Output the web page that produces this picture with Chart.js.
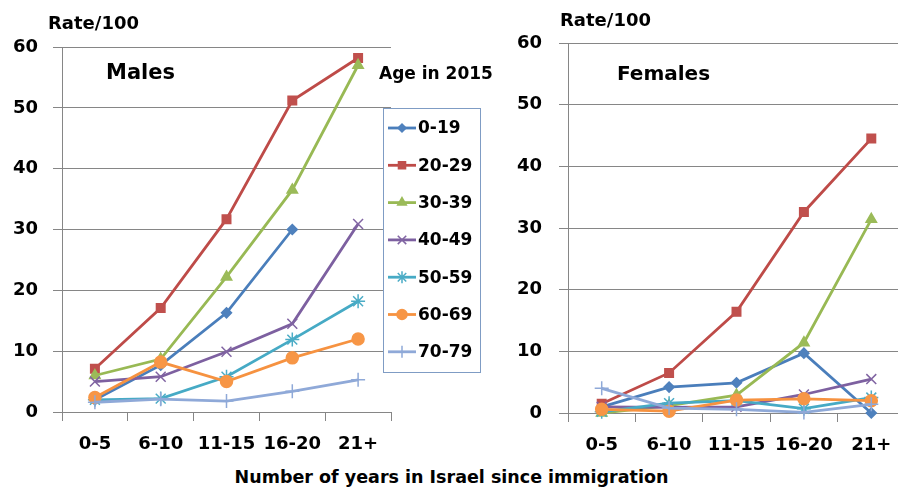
<!DOCTYPE html>
<html>
<head>
<meta charset="utf-8">
<script src="https://cdn.jsdelivr.net/npm/chart.js@4/dist/chart.umd.min.js"></script>
<style>
  html, body { margin: 0; padding: 0; background: #fff; width: 898px; height: 493px; overflow: hidden; }
  body { position: relative; font-family: "DejaVu Sans", sans-serif; font-weight: bold; color: #000; }
  .wrap { position: absolute; top: 0; height: 460px; }
  .lbl { position: absolute; white-space: nowrap; line-height: 1; }
</style>
</head>
<body>
<div class="wrap" style="left:0;width:500px;"><canvas id="males" width="500" height="460"></canvas></div>
<div class="wrap" style="left:500px;width:420px;"><canvas id="females" width="420" height="460"></canvas></div>

<div class="lbl" style="left:48px;top:14px;font-size:18px;">Rate/100</div>
<div class="lbl" style="left:560px;top:11px;font-size:18px;">Rate/100</div>
<div class="lbl" style="left:106px;top:62px;font-size:21px;">Males</div>
<div class="lbl" style="left:617px;top:63px;font-size:20px;">Females</div>
<div class="lbl" style="left:379px;top:65px;font-size:17px;">Age in 2015</div>
<div class="lbl" style="left:0;width:903px;text-align:center;top:469px;font-size:17.5px;">Number of years in Israel since immigration</div>

<script>
// Years since immigration (x categories)
const categories = ['0-5', '6-10', '11-15', '16-20', '21+'];
// Age groups in 2015 (one line per group)
const ageGroups = ['0-19', '20-29', '30-39', '40-49', '50-59', '60-69', '70-79'];
// y-axis tick values
const yTicks = [0, 10, 20, 30, 40, 50, 60];

// Males, rate per 100
const males0_19  = [2.0, 7.7, 16.3, 30.0, null];
const males20_29 = [7.1, 17.1, 31.7, 51.2, 58.2];
const males30_39 = [6.0, 8.7, 22.2, 36.5, 57.0];
const males40_49 = [5.0, 5.8, 9.9, 14.5, 30.9];
const males50_59 = [2.0, 2.2, 5.8, 11.9, 18.2];
const males60_69 = [2.4, 8.2, 5.0, 8.9, 12.0];
const males70_79 = [1.6, 2.1, 1.8, 3.4, 5.3];

// Females, rate per 100
const females0_19  = [1.0, 4.2, 4.9, 9.7, 0.0];
const females20_29 = [1.5, 6.5, 16.4, 32.6, 44.5];
const females30_39 = [0.0, 1.2, 2.9, 11.4, 31.4];
const females40_49 = [1.0, 0.9, 1.0, 3.0, 5.5];
const females50_59 = [0.2, 1.6, 2.0, 0.7, 2.5];
const females60_69 = [0.6, 0.3, 2.1, 2.3, 2.0];
const females70_79 = [4.0, 0.8, 0.6, 0.1, 1.4];

const maleSeries = [males0_19, males20_29, males30_39, males40_49, males50_59, males60_69, males70_79];
const femaleSeries = [females0_19, females20_29, females30_39, females40_49, females50_59, females60_69, females70_79];

// Office-style line / marker styling per age group
const styles = [
  { line: '#4A7EBB', fill: '#4F81BD', point: 'rectRot',  radius: 5 },
  { line: '#BE4B48', fill: '#C0504D', point: 'rect',     radius: 6 },
  { line: '#98B954', fill: '#9BBB59', point: 'triangle', radius: 6 },
  { line: '#7D60A0', fill: '#8064A2', point: 'crossRot', radius: 7 },
  { line: '#46AAC5', fill: '#4BACC6', point: 'star',     radius: 7 },
  { line: '#F69240', fill: '#F79646', point: 'circle',   radius: 6 },
  { line: '#8FA9D8', fill: '#8FA9D8', point: 'cross',    radius: 7 }
];

const FONT = { family: 'DejaVu Sans', weight: 'bold', size: 18 };
const GRID = '#868686';

function datasets(series) {
  return series.map((values, i) => ({
    label: ageGroups[i],
    data: values,
    borderColor: styles[i].line,
    backgroundColor: styles[i].fill,
    pointBackgroundColor: styles[i].fill,
    pointBorderColor: styles[i].fill,
    pointStyle: styles[i].point,
    pointRadius: styles[i].radius,
    pointBorderWidth: 1.5,
    borderWidth: 2.8,
    tension: 0,
    clip: false,
    order: series.length - i
  }));
}

// Legend box drawn inside the males chart
const ageLegend = {
  id: 'ageLegend',
  afterDraw(chart, args, opts) {
    if (!opts.show) return;
    const ctx = chart.ctx;
    const box = { x: 383, y: 108, w: 97, h: 264 };
    ctx.save();
    ctx.fillStyle = '#fff';
    ctx.fillRect(box.x, box.y, box.w, box.h);
    ctx.strokeStyle = '#7F9CC4';
    ctx.lineWidth = 1;
    ctx.strokeRect(box.x + 0.5, box.y + 0.5, box.w, box.h);
    ctx.font = 'bold 17px "DejaVu Sans"';
    ctx.textBaseline = 'middle';
    ageGroups.forEach((name, i) => {
      const y = 128 + i * 37.3;
      const st = styles[i];
      ctx.strokeStyle = st.line;
      ctx.lineWidth = 2.8;
      ctx.beginPath();
      ctx.moveTo(388, y);
      ctx.lineTo(416, y);
      ctx.stroke();
      ctx.fillStyle = st.fill;
      ctx.strokeStyle = st.fill;
      ctx.lineWidth = 1.5;
      Chart.helpers.drawPoint(ctx, { pointStyle: st.point, radius: st.radius - 1, rotation: 0, borderWidth: 1.5 }, 402, y);
      ctx.fillStyle = '#000';
      ctx.fillText(name, 418, y + 1);
    });
    ctx.restore();
  }
};

function makeChart(id, series, geom, showLegend) {
  return new Chart(document.getElementById(id), {
    type: 'line',
    data: { labels: categories, datasets: datasets(series) },
    plugins: [ageLegend],
    options: {
      responsive: false,
      animation: false,
      events: [],
      layout: { padding: { left: 0, top: geom.top, right: geom.right, bottom: 0 } },
      plugins: {
        legend: { display: false },
        tooltip: { enabled: false },
        ageLegend: { show: showLegend }
      },
      scales: {
        x: {
          type: 'category',
          offset: true,
          grid: { offset: true, drawOnChartArea: false, drawTicks: true, tickLength: 9, color: GRID, lineWidth: 1 },
          border: { color: GRID, width: 1 },
          ticks: { font: FONT, color: '#000', padding: 13, maxRotation: 0, autoSkip: false },
          afterFit(scale) { scale.height = geom.xHeight; }
        },
        y: {
          min: 0,
          max: 60,
          afterBuildTicks(scale) { scale.ticks = yTicks.map(v => ({ value: v })); },
          grid: { color: GRID, lineWidth: 1, drawTicks: true, tickLength: 9 },
          border: { color: GRID, width: 1 },
          ticks: { font: FONT, color: '#000', padding: geom.yPad },
          afterFit(scale) { scale.width = geom.yWidth; }
        }
      }
    }
  });
}

makeChart('males', maleSeries, { top: 47, right: 109, xHeight: 48, yWidth: 62, yPad: 15 }, true);
makeChart('females', femaleSeries, { top: 43, right: 15, xHeight: 47, yWidth: 68, yPad: 17 }, false);
</script>
</body>
</html>
